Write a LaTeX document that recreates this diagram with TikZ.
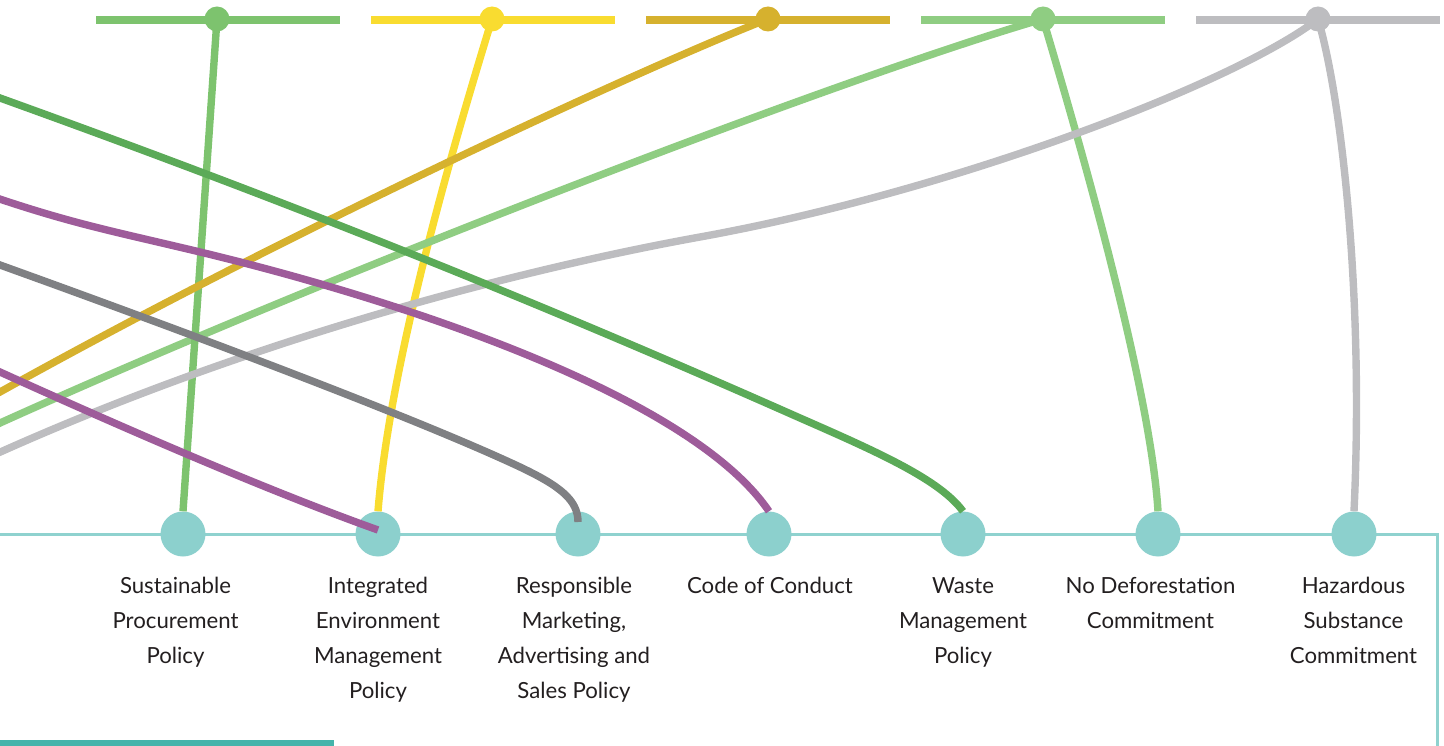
\documentclass[tikz,border=0pt]{standalone}
\usepackage{fontspec}
\setmainfont{Lato}
\definecolor{cGreen}{HTML}{7DC36E}
\definecolor{cYellow}{HTML}{F9DC30}
\definecolor{cGold}{HTML}{D6B12E}
\definecolor{cLight}{HTML}{8FCD82}
\definecolor{cGrayL}{HTML}{BDBDC0}
\definecolor{cDark}{HTML}{5BAA58}
\definecolor{cPurple}{HTML}{9E5C9A}
\definecolor{cGrayD}{HTML}{7F8083}
\definecolor{cHub}{HTML}{8CD0CD}
\definecolor{cRail}{HTML}{8FD2CF}
\definecolor{cBar}{HTML}{45B4AB}
\definecolor{cTxt}{HTML}{231F20}
\begin{document}
\begin{tikzpicture}[x=1pt,y=-1pt,
  bar/.style={line width=7.5pt},
  link/.style={line width=7.4pt},
  dot/.style={circle,inner sep=0pt,minimum size=25pt},
  hub/.style={circle,fill=cHub,inner sep=0pt,minimum size=45pt},
  lbl/.style={align=center,anchor=north,inner sep=0pt,text=cTxt,
              font=\fontsize{22.2}{35}\selectfont}]
\useasboundingbox (0,0) rectangle (1444,746);
\begin{scope}
\clip (0,0) rectangle (1444,746);

% rail along the bottom and the accent bar
\draw[cRail,line width=3pt] (0,534) -- (1437.5,534) -- (1437.5,760);
\draw[cBar,line width=7pt] (0,743) -- (334,743);

% top bars with their dots
\draw[bar,cGreen]  (96,20) -- (340,20);
\draw[bar,cYellow] (371,20) -- (615,20);
\draw[bar,cGold]   (646,20) -- (890,20);
\draw[bar,cLight]  (921,20) -- (1165,20);
\draw[bar,cGrayL]  (1196,20) -- (1440,20);
\node[dot,fill=cGreen]  (d1) at (217,19) {};
\node[dot,fill=cYellow] (d2) at (492,19) {};
\node[dot,fill=cGold]   (d3) at (768,19) {};
\node[dot,fill=cLight]  (d4) at (1043,19) {};
\node[dot,fill=cGrayL]  (d5) at (1318,19) {};

% policy hubs
\node[hub] (c1) at (183,534) {};
\node[hub] (c2) at (378,534) {};
\node[hub] (c3) at (578,534) {};
\node[hub] (c4) at (769,534) {};
\node[hub] (c5) at (963,534) {};
\node[hub] (c6) at (1158,534) {};
\node[hub] (c7) at (1354,534) {};

% free ends beyond the left edge and tips inside hubs
\coordinate (goldEnd) at (-60,425);
\coordinate (lightEnd) at (-60,455);
\coordinate (grayLEnd) at (-60,480);
\coordinate (darkEnd) at (-60,76);
\coordinate (purpleUEnd) at (-60,178);
\coordinate (grayDEnd) at (-60,243);
\coordinate (purpleLEnd) at (-60,345);
\coordinate (grayDTip) at (578,522);
\coordinate (purpleLTip) at (378,530);

% connectors
\draw[link,cYellow] (d2.center) .. controls (455,140) and (390,360) .. (c2.north);
\draw[link,cLight] (d4.center) .. controls (850,75) and (350,265) .. (0,423) -- (lightEnd);
\draw[link,cGreen] (d1.center) -- (c1.north);
\draw[link,cGold] (d3.center) .. controls (650,65) and (300,225) .. (0,392) -- (goldEnd);
\draw[link,cLight] (d4.center) .. controls (1070,110) and (1150,380) .. (c6.north);
\draw[link,cGrayL] (d5.center) .. controls (1240,80) and (960,190) .. (700,237)
      .. controls (490,275) and (200,355) .. (grayLEnd);
\draw[link,cGrayL] (d5.center) .. controls (1342,100) and (1364,300) .. (c7.north);
\draw[link,cPurple] (purpleUEnd) .. controls (60,222) and (100,228) .. (200,252)
      .. controls (400,300) and (690,395) .. (c4.north);
\draw[link,cGrayD] (grayDEnd) -- (0,265) .. controls (200,337) and (420,420) .. (520,467)
      .. controls (560,486) and (578,500) .. (grayDTip);
\draw[link,cPurple] (purpleLEnd) -- (0,372) .. controls (150,440) and (280,495) .. (purpleLTip);
\draw[link,cDark] (darkEnd) -- (0,98) .. controls (250,188) and (500,285) .. (800,418)
      .. controls (880,453) and (940,480) .. (c5.north);
\end{scope}

% labels
\node[lbl] (l1) at (175.5,577) {Sustainable\\Procurement\\Policy};
\node[lbl] (l2) at (378,577) {Integrated\\Environment\\Management\\Policy};
\node[lbl] (l3) at (574,577) {Responsible\\Marketing,\\Advertising and\\Sales Policy};
\node[lbl] (l4) at (770,577) {Code of Conduct};
\node[lbl] (l5) at (963,577) {Waste\\Management\\Policy};
\node[lbl] (l6) at (1150.5,577) {No Deforestation\\Commitment};
\node[lbl] (l7) at (1353.5,577) {Hazardous\\Substance\\Commitment};
\end{tikzpicture}
\end{document}
